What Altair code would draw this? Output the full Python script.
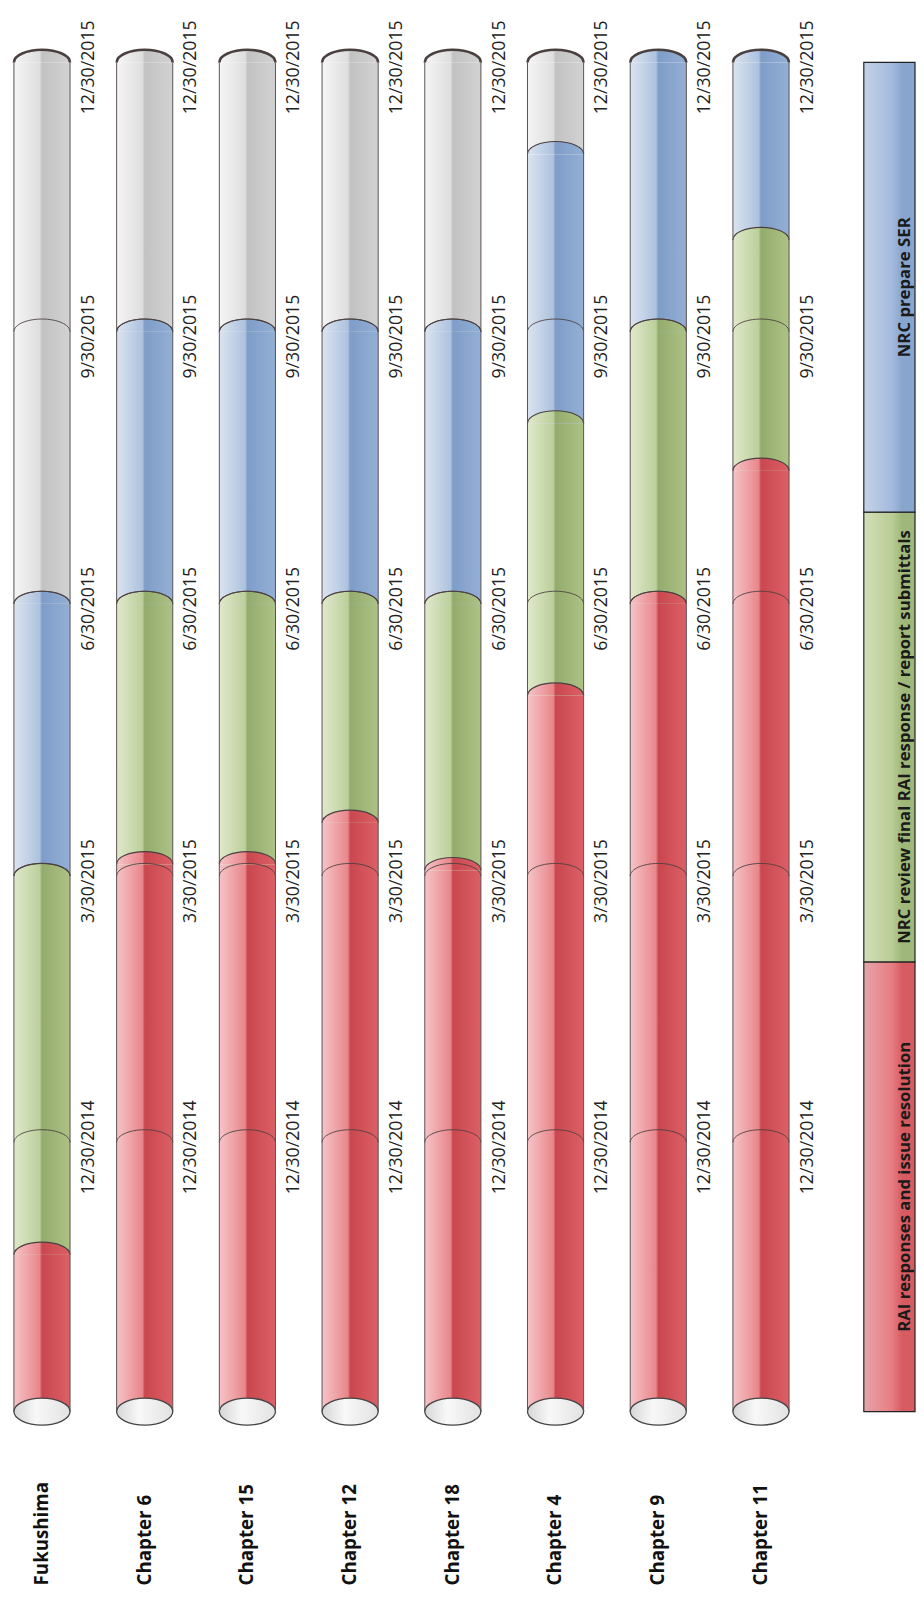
import altair as alt
import pandas as pd

# ---------------- data ----------------
chapters = ["Fukushima", "Chapter 6", "Chapter 15", "Chapter 12",
            "Chapter 18", "Chapter 4", "Chapter 9", "Chapter 11"]
timeline_start = "2014-09-30"
timeline_end = "2015-12-30"
rai_end = ["2014-11-22", "2015-04-03", "2015-04-03", "2015-04-17",
           "2015-04-01", "2015-05-30", "2015-06-30", "2015-08-14"]
review_end = ["2015-03-30", "2015-06-30", "2015-06-30", "2015-06-30",
              "2015-06-30", "2015-08-30", "2015-09-30", "2015-10-31"]
ser_end = ["2015-06-30", "2015-09-30", "2015-09-30", "2015-09-30",
           "2015-09-30", "2015-11-29", "2015-12-30", "2015-12-30"]
phase_names = ["RAI", "Review", "SER", "Remaining"]
tick_dates = ["2014-12-30", "2015-03-30", "2015-06-30", "2015-09-30", "2015-12-30"]
tick_labels = ["12/30/2014", "3/30/2015", "6/30/2015", "9/30/2015", "12/30/2015"]
legend_labels = ["RAI responses and issue resolution",
                 "NRC review final RAI response / report submittals",
                 "NRC prepare SER"]

# ---------------- tables ----------------
t0 = pd.Timestamp(timeline_start)


def day(s):
    return (pd.Timestamp(s) - t0).days


total_days = day(timeline_end)

rows = []
for i, ch in enumerate(chapters):
    bounds = [timeline_start, rai_end[i], review_end[i], ser_end[i], timeline_end]
    for k, ph in enumerate(phase_names):
        a, b = day(bounds[k]), day(bounds[k + 1])
        if b > a:
            rows.append(dict(chapter=ch, phase=ph, start=a, end=b,
                             sw=2.6 if b == total_days else 1.2))
seg = pd.DataFrame(rows)

cyl = pd.DataFrame(dict(chapter=chapters, start=[0] * len(chapters),
                        end=[total_days] * len(chapters)))

grid_rows = []
for ch in chapters:
    for d, lab in zip(tick_dates, tick_labels):
        grid_rows.append(dict(chapter=ch, d=day(d), label=lab,
                              inner=day(d) < total_days))
grid = pd.DataFrame(grid_rows)

# ---------------- styles ----------------
FONT = "Open Sans"
BAR_W = 57
SYM = BAR_W * BAR_W
DOME = "M -1 0 C -1 -0.248 -0.552 -0.45 0 -0.45 C 0.552 -0.45 1 -0.248 1 0"
ELLIPSE = ("M -1 0 C -1 -0.265 -0.552 -0.48 0 -0.48 C 0.552 -0.48 1 -0.265 1 0 "
           "C 1 0.265 0.552 0.48 0 0.48 C -0.552 0.48 -1 0.265 -1 0 Z")


def grad(stops):
    return alt.Gradient(gradient="linear", x1=0, y1=0, x2=1, y2=0,
                        stops=[alt.GradientStop(offset=o, color=c) for o, c in stops])


fills = {
    "RAI": grad([(0, "#f6c4c7"), (0.46, "#e8868b"), (0.5, "#c9474e"), (1, "#dc6066")]),
    "Review": grad([(0, "#e0e9cb"), (0.46, "#bccf9b"), (0.5, "#93ab6c"), (1, "#adc386")]),
    "SER": grad([(0, "#dbe4f0"), (0.46, "#adc2de"), (0.5, "#7e9dc7"), (1, "#93afd5")]),
    "Remaining": grad([(0, "#f5f5f5"), (0.46, "#dedede"), (0.5, "#c2c2c2"), (1, "#d2d2d2")]),
}
legend_fills = {
    "RAI": grad([(0, "#e4a5aa"), (0.55, "#e77d83"), (0.75, "#d65c62"), (1, "#d65c62")]),
    "Review": grad([(0, "#d3dfb8"), (0.55, "#b9cc95"), (0.75, "#9fb879"), (1, "#9fb879")]),
    "SER": grad([(0, "#c6d3e6"), (0.55, "#a3bade"), (0.75, "#88a5cd"), (1, "#88a5cd")]),
}
cap_fill = grad([(0, "#d6d6d6"), (0.4, "#f8f8f8"), (1, "#e2e2e2")])
LINE = "#4b4040"

X_SCALE = alt.Scale(domain=chapters, paddingInner=1 - BAR_W / 104.3, paddingOuter=0)
X_AXIS = alt.Axis(title=None, orient="bottom", labelAngle=270, labelAlign="left",
                  labelBaseline="middle", labelPadding=176, ticks=False, tickSize=0,
                  domain=False, grid=False, labelFont=FONT, labelFontWeight="bold",
                  labelFontSize=19, labelColor="#111111", labelLimit=0)
Y_SCALE = alt.Scale(domain=[0, total_days], nice=False, zero=False)


def xenc(bp=None):
    kw = dict(sort=chapters, scale=X_SCALE, axis=X_AXIS)
    if bp is not None:
        kw["bandPosition"] = bp
    return alt.X("chapter:N", **kw)


def yenc(f):
    return alt.Y(f"{f}:Q", scale=Y_SCALE, axis=None)


layers = []
for ph in phase_names:
    layers.append(
        alt.Chart(seg).transform_filter(alt.datum.phase == ph)
        .mark_bar(fill=fills[ph])
        .encode(x=xenc(), y=yenc("start"), y2="end:Q")
    )
for ph in phase_names:
    layers.append(
        alt.Chart(seg).transform_filter(alt.datum.phase == ph)
        .mark_point(shape=DOME, size=SYM, filled=True, fill=fills[ph],
                    stroke=LINE, opacity=1)
        .encode(x=xenc(), y=yenc("end"),
                strokeWidth=alt.StrokeWidth("sw:Q", scale=None))
    )
layers.append(
    alt.Chart(grid).transform_filter(alt.datum.inner)
    .mark_point(shape=DOME, size=SYM, filled=False, stroke=LINE,
                strokeWidth=1, opacity=0.9)
    .encode(x=xenc(), y=yenc("d"))
)
layers.append(
    alt.Chart(cyl).mark_point(shape=ELLIPSE, size=SYM, filled=True, fill=cap_fill,
                              stroke="#444444", strokeWidth=1.3, opacity=1)
    .encode(x=xenc(), y=yenc("start"))
)
for bp in (0, 1):
    layers.append(
        alt.Chart(cyl).mark_rule(stroke="#5a5050", strokeWidth=1)
        .encode(x=xenc(bp), y=yenc("start"), y2="end:Q")
    )
layers.append(
    alt.Chart(grid).mark_text(angle=270, align="center", baseline="middle",
                              dx=-5, dy=47.5, font=FONT, fontSize=18,
                              color="#222222")
    .encode(x=xenc(), y=yenc("d"), text="label:N")
)

main = alt.layer(*layers).properties(width=787.1, height=1370)

leg = pd.DataFrame(dict(item=legend_labels, phase=phase_names[:3],
                        lo=[0, 1, 2], hi=[1, 2, 3], mid=[0.5, 1.5, 2.5],
                        k=["legend"] * 3))
LX = alt.X("k:N", axis=None, scale=alt.Scale(paddingInner=0, paddingOuter=0))
LY_SCALE = alt.Scale(domain=[0, 3], nice=False, zero=False)
leg_layers = []
for ph in phase_names[:3]:
    leg_layers.append(
        alt.Chart(leg).transform_filter(alt.datum.phase == ph)
        .mark_bar(fill=legend_fills[ph], stroke="#222222", strokeWidth=1.2)
        .encode(x=LX, y=alt.Y("lo:Q", scale=LY_SCALE, axis=None), y2="hi:Q")
    )
leg_layers.append(
    alt.Chart(leg).mark_text(angle=270, align="center", baseline="middle",
                             dy=16, font=FONT, fontSize=17, fontWeight="bold",
                             color="#1a1a1a")
    .encode(x=LX, y=alt.Y("mid:Q", scale=LY_SCALE, axis=None), text="item:N")
)
legend = alt.layer(*leg_layers).properties(width=52, height=1370)

chart = (
    alt.hconcat(main, legend, spacing=75, bounds="flush")
    .properties(padding={"left": 0, "top": 0, "right": 0, "bottom": 0})
    .configure_view(stroke=None)
)

chart.save("out.html", embed_options={"renderer": "svg", "actions": False})
